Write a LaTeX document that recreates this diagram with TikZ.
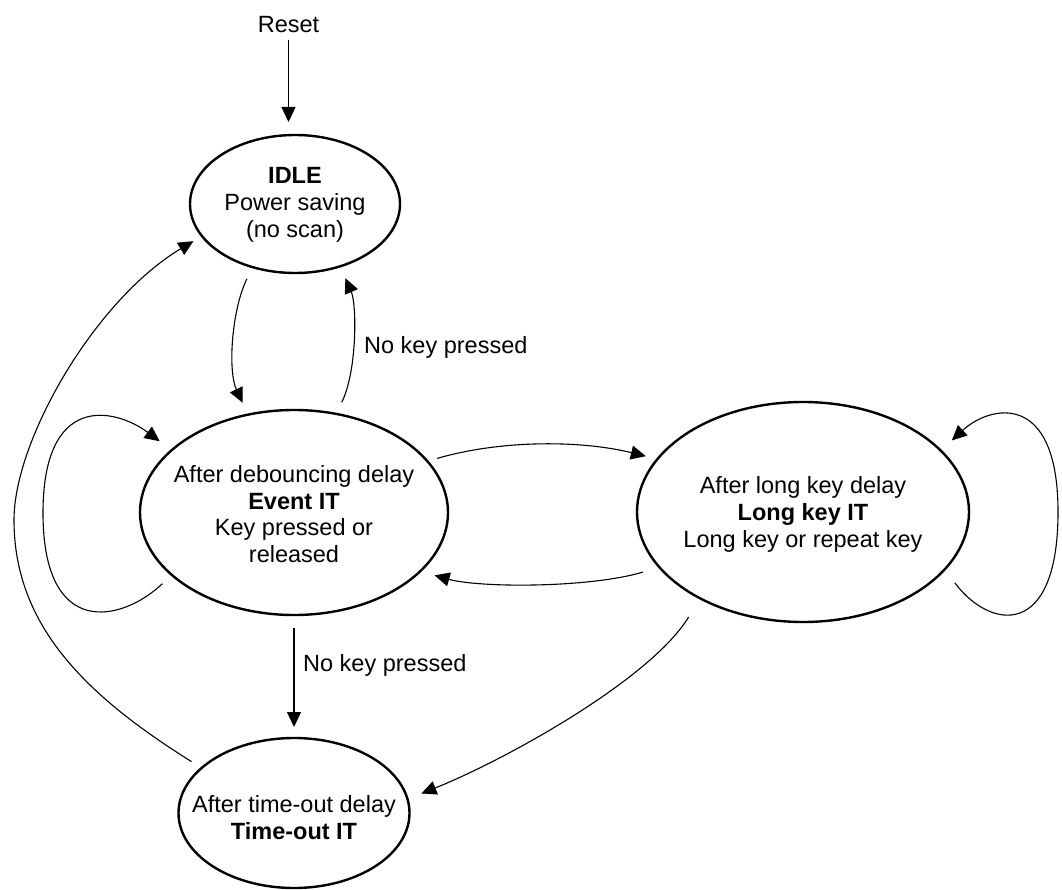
\documentclass[tikz,border=0pt]{standalone}
\usepackage{fontspec}
\setmainfont{Liberation Sans}
\usetikzlibrary{shapes.geometric,arrows.meta}
\begin{document}
\begin{tikzpicture}[x=1pt,y=-1pt,
  state/.style={draw, ellipse, line width=2.4pt, inner sep=0pt, outer sep=0pt},
  txt/.style={font=\fontsize{23.5}{26.8}\selectfont, align=center, inner sep=0pt},
  conn/.style={line width=1.1pt, -{Triangle[length=15pt,width=14pt]}},
  straight/.style={conn, line width=1.3pt}
]
\useasboundingbox (0,0) rectangle (1062,890);

% states
\node[state, minimum width=210pt, minimum height=138pt] (idle) at (295,204) {};
\node[txt] (idletxt) at (295,205) {\textbf{IDLE}\\Power saving\\(no scan)};

\node[state, minimum width=308pt, minimum height=205pt] (event) at (294,512.5) {};
\node[txt] (eventtxt) at (294,514) {After debouncing delay\\\textbf{Event IT}\\Key pressed or\\released};

\node[state, minimum width=332pt, minimum height=220pt] (long) at (803,512) {};
\node[txt] (longtxt) at (803,514.5) {After long key delay\\\textbf{Long key IT}\\Long key or repeat key};

\node[state, minimum width=231pt, minimum height=150pt] (tout) at (294,813) {};
\node[txt] (touttxt) at (294,817.5) {After time-out delay\\\textbf{Time-out IT}};

\node[txt, anchor=base] (reset) at (288.5,32.5) {Reset};

% reset arrow
\draw[straight, shorten <=7pt, shorten >=13pt] (reset.south) -- (reset.south |- idle.north);

% idle <-> event
\draw[conn, shorten <=13pt, shorten >=13pt]
  (idle.236) .. controls (231,312) and (228,372) .. (event.115);
\draw[conn, shorten <=13pt, shorten >=13pt]
  (event.67) .. controls (357,372) and (357,305) .. (idle.306);
\node[txt, anchor=west] (lblup) at (364,347.5) {No key pressed};

% event self loop
\draw[conn, shorten <=13pt, shorten >=15pt]
  (event.207) .. controls (122,622) and (43,640) .. (43,513)
  .. controls (43,392) and (115,408) .. (event.153);

% event <-> long
\draw[conn, shorten <=10pt, shorten >=12pt]
  (event.21) .. controls (500,440) and (580,440) .. (long.160);
\draw[conn, shorten <=17pt, shorten >=15pt]
  (long.201) .. controls (590,588) and (480,588) .. (event.335);

% long self loop
\draw[conn, shorten <=17pt, shorten >=15pt]
  (long.338) .. controls (990,630) and (1058,640) .. (1058,512)
  .. controls (1058,390) and (990,405) .. (long.24);

% event -> timeout
\draw[straight, shorten <=13pt, shorten >=11pt] (event.south) -- (tout.north);
\node[txt, anchor=west] (lbldown) at (303,665) {No key pressed};

% long -> timeout
\draw[conn, shorten <=22pt, shorten >=15pt]
  (long.220) .. controls (650,680) and (505,760) .. (tout.7);

% timeout -> idle
\draw[conn, shorten <=12pt, shorten >=10pt]
  (tout.154) .. controls (85,695) and (14,625) .. (14,520)
  .. controls (14,440) and (95,300) .. (idle.199);
\end{tikzpicture}
\end{document}
